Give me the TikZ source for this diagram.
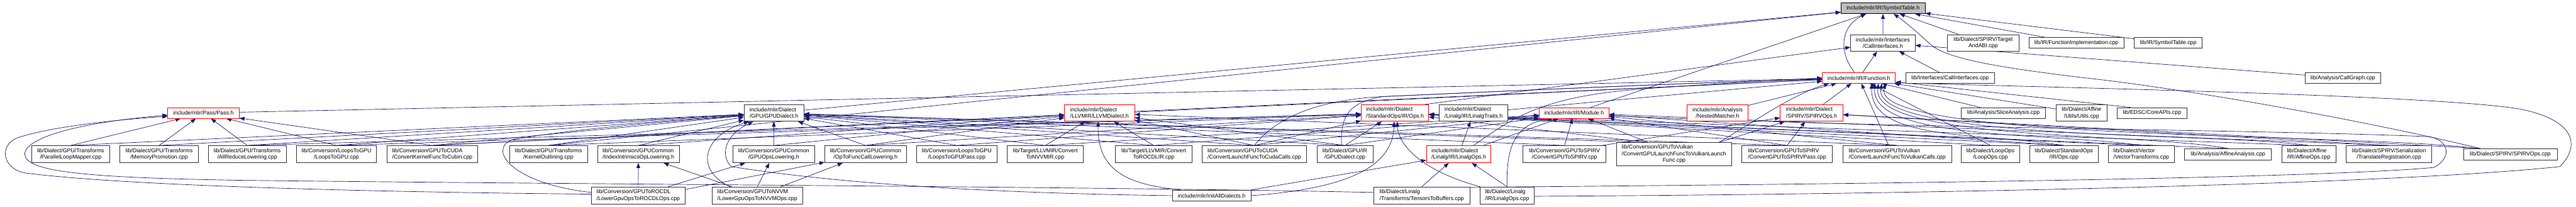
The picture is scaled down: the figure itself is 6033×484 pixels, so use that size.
\documentclass[tikz,border=0pt]{standalone}
\usepackage{fontspec}
\setmainfont{Liberation Sans}
\usetikzlibrary{arrows.meta}
\pgfdeclarelayer{bglayer}
\pgfdeclarelayer{edgelayer}
\pgfsetlayers{bglayer,edgelayer,main}
\definecolor{edgeblue}{HTML}{191970}
\definecolor{rootgray}{HTML}{BFBFBF}
\definecolor{boxborder}{HTML}{333333}
\definecolor{redborder}{HTML}{FF0000}
\begin{document}
\begin{tikzpicture}[x=1pt,y=-1pt,
  nbox/.style={draw=boxborder, line width=1pt, fill=white, inner sep=0pt, align=center, font=\fontsize{13}{15.3}\selectfont},
  nlbox/.style={nbox, align=left},
  nrbox/.style={nbox, draw=redborder},
  nrlbox/.style={nlbox, draw=redborder},
  nroot/.style={nbox, draw=black, fill=rootgray},
  inc/.style={draw=edgeblue, line width=1pt, -{Triangle[length=12pt,width=9pt]}},
]
\begin{pgfonlayer}{bglayer}
\fill[white] (0,0) rectangle (6033,484);
\end{pgfonlayer}
\useasboundingbox (0,0) rectangle (6033,484);

% ---------- row 1/2 ----------
\node[nroot, minimum width=197pt, minimum height=26pt] (ST) at (4410,19) {include/mlir/IR/SymbolTable.h};
\node[nbox, minimum width=151pt, minimum height=39pt] (CI) at (4409.6,100.5) {include/mlir/Interfaces\\/CallInterfaces.h};
\node[nbox, minimum width=167pt, minimum height=39pt] (TABI) at (4644.6,100.5) {lib/Dialect/SPIRV/Target\\AndABI.cpp};
\node[nbox, minimum width=222pt, minimum height=25pt] (FIMP) at (4863,100.5) {lib/IR/FunctionImplementation.cpp};
\node[nbox, minimum width=159pt, minimum height=25pt] (STCPP) at (5078,100.5) {lib/IR/SymbolTable.cpp};
\node[nrbox, minimum width=171pt, minimum height=25pt] (FN) at (4353.5,182.5) {include/mlir/IR/Function.h};
\node[nbox, minimum width=207pt, minimum height=25pt] (CICPP) at (4567,182.5) {lib/Interfaces/CallInterfaces.cpp};
\node[nbox, minimum width=177pt, minimum height=25pt] (CG) at (5487,182.5) {lib/Analysis/CallGraph.cpp};

% ---------- row 3 ----------
\node[nrbox, minimum width=167pt, minimum height=25pt] (PASS) at (476.5,264.5) {include/mlir/Pass/Pass.h};
\node[nlbox, minimum width=140pt, minimum height=39pt] (GPUD) at (1812.5,264.5) {include/mlir/Dialect\\/GPU/GPUDialect.h};
\node[nrlbox, minimum width=164pt, minimum height=39pt] (LLVMD) at (2575,264.5) {include/mlir/Dialect\\/LLVMIR/LLVMDialect.h};
\node[nrlbox, minimum width=158pt, minimum height=39pt] (STDH) at (3267,264.5) {include/mlir/Dialect\\/StandardOps/IR/Ops.h};
\node[nlbox, minimum width=160pt, minimum height=39pt] (LTR) at (3451,264.5) {include/mlir/Dialect\\/Linalg/IR/LinalgTraits.h};
\node[nrbox, minimum width=163pt, minimum height=25pt] (MOD) at (3686.5,264.5) {include/mlir/IR/Module.h};
\node[nrbox, minimum width=143pt, minimum height=39pt] (NM) at (4022.5,264.5) {include/mlir/Analysis\\/NestedMatcher.h};
\node[nrlbox, minimum width=147pt, minimum height=39pt] (SPVH) at (4242.7,264.5) {include/mlir/Dialect\\/SPIRV/SPIRVOps.h};
\node[nbox, minimum width=198pt, minimum height=25pt] (SLICE) at (4692,264.5) {lib/Analysis/SliceAnalysis.cpp};
\node[nbox, minimum width=119pt, minimum height=39pt] (AUTIL) at (4875,264.5) {lib/Dialect/Affine\\/Utils/Utils.cpp};
\node[nbox, minimum width=163pt, minimum height=25pt] (EDSC) at (5040,264.5) {lib/EDSC/CoreAPIs.cpp};

% ---------- row 4 ----------
\node[nbox, minimum width=183pt, minimum height=40pt] (PLM) at (165.5,361) {lib/Dialect/GPU/Transforms\\/ParallelLoopMapper.cpp};
\node[nbox, minimum width=183pt, minimum height=40pt] (MP) at (372.5,361) {lib/Dialect/GPU/Transforms\\/MemoryPromotion.cpp};
\node[nbox, minimum width=183pt, minimum height=40pt] (ARL) at (579,361) {lib/Dialect/GPU/Transforms\\/AllReduceLowering.cpp};
\node[nbox, minimum width=188pt, minimum height=40pt] (L2G) at (788,361) {lib/Conversion/LoopsToGPU\\/LoopsToGPU.cpp};
\node[nlbox, minimum width=211pt, minimum height=40pt] (CKF) at (1012.4,361) {lib/Conversion/GPUToCUDA\\/ConvertKernelFuncToCubin.cpp};
\node[nbox, minimum width=183pt, minimum height=40pt] (KO) at (1284.3,361) {lib/Dialect/GPU/Transforms\\/KernelOutlining.cpp};
\node[nlbox, minimum width=191pt, minimum height=40pt] (IIOL) at (1495,361) {lib/Conversion/GPUCommon\\/IndexIntrinsicsOpLowering.h};
\node[nbox, minimum width=191pt, minimum height=40pt] (GOL) at (1812,361) {lib/Conversion/GPUCommon\\/GPUOpsLowering.h};
\node[nbox, minimum width=191pt, minimum height=40pt] (OTFC) at (2027,361) {lib/Conversion/GPUCommon\\/OpToFuncCallLowering.h};
\node[nbox, minimum width=188pt, minimum height=40pt] (L2GP) at (2240.7,361) {lib/Conversion/LoopsToGPU\\/LoopsToGPUPass.cpp};
\node[nbox, minimum width=178pt, minimum height=40pt] (CNVVM) at (2448,361) {lib/Target/LLVMIR/Convert\\ToNVVMIR.cpp};
\node[nbox, minimum width=179pt, minimum height=40pt] (CROCDL) at (2702,361) {lib/Target/LLVMIR/Convert\\ToROCDLIR.cpp};
\node[nlbox, minimum width=245pt, minimum height=40pt] (CLFCC) at (2937.7,361) {lib/Conversion/GPUToCUDA\\/ConvertLaunchFuncToCudaCalls.cpp};
\node[nbox, minimum width=131pt, minimum height=40pt] (GPUDCPP) at (3149.7,361) {lib/Dialect/GPU/IR\\/GPUDialect.cpp};
\node[nrlbox, minimum width=151pt, minimum height=40pt] (LOPSH) at (3416.4,361) {include/mlir/Dialect\\/Linalg/IR/LinalgOps.h};
\node[nbox, minimum width=195pt, minimum height=40pt] (CG2S) at (3664,361) {lib/Conversion/GPUToSPIRV\\/ConvertGPUToSPIRV.cpp};
\node[nlbox, minimum width=269pt, minimum height=54pt] (CGLFV) at (3920.3,361) {lib/Conversion/GPUToVulkan\\/ConvertGPULaunchFuncToVulkanLaunch\\\hspace*{96pt}Func.cpp};
\node[nlbox, minimum width=212pt, minimum height=40pt] (CG2SP) at (4185.3,361) {lib/Conversion/GPUToSPIRV\\/ConvertGPUToSPIRVPass.cpp};
\node[nlbox, minimum width=254pt, minimum height=40pt] (CLFVC) at (4443.2,361) {lib/Conversion/GPUToVulkan\\/ConvertLaunchFuncToVulkanCalls.cpp};
\node[nbox, minimum width=137pt, minimum height=40pt] (LOOPOPS) at (4661.6,361) {lib/Dialect/LoopOps\\/LoopOps.cpp};
\node[nbox, minimum width=161pt, minimum height=40pt] (STDCPP) at (4833.6,361) {lib/Dialect/StandardOps\\/IR/Ops.cpp};
\node[nlbox, minimum width=155pt, minimum height=40pt] (VECT) at (5015,361) {lib/Dialect/Vector\\/VectorTransforms.cpp};
\node[nbox, minimum width=203pt, minimum height=26pt] (AFFAN) at (5217.8,361) {lib/Analysis/AffineAnalysis.cpp};
\node[nlbox, minimum width=127pt, minimum height=40pt] (AFFOPS) at (5407,361) {lib/Dialect/Affine\\/IR/AffineOps.cpp};
\node[nbox, minimum width=200pt, minimum height=40pt] (TREG) at (5595,361) {lib/Dialect/SPIRV/Serialization\\/TranslateRegistration.cpp};
\node[nbox, minimum width=219pt, minimum height=26pt] (SPVCPP) at (5879,361) {lib/Dialect/SPIRV/SPIRVOps.cpp};

% ---------- row 5 ----------
\node[nlbox, minimum width=220pt, minimum height=40pt] (ROCDL) at (1494.8,457.5) {lib/Conversion/GPUToROCDL\\/LowerGpuOpsToROCDLOps.cpp};
\node[nlbox, minimum width=212pt, minimum height=40pt] (NVVM) at (1773.7,457.5) {lib/Conversion/GPUToNVVM\\/LowerGpuOpsToNVVMOps.cpp};
\node[nbox, minimum width=184pt, minimum height=26pt] (IAD) at (2837.5,458) {include/mlir/InitAllDialects.h};
\node[nlbox, minimum width=225pt, minimum height=40pt] (T2B) at (3329.7,457.5) {lib/Dialect/Linalg\\/Transforms/TensorsToBuffers.cpp};
\node[nlbox, minimum width=126pt, minimum height=40pt] (LOPSCPP) at (3529.6,457.5) {lib/Dialect/Linalg\\/IR/LinalgOps.cpp};

\begin{pgfonlayer}{edgelayer}
% ---- into SymbolTable.h
\draw[inc] (CI) -- (ST);
\draw[inc] ([xshift=-10pt]FN.north) .. controls (4310,130) and (4305,65) .. ([xshift=-40pt]ST.south);
\draw[inc] (MOD) -- (ST);
\draw[inc] (GPUD) -- (ST);
\draw[inc] (KO.north) -- (ST);
\draw[inc] (TABI) -- (ST);
\draw[inc] (FIMP) -- (ST);
\draw[inc] (STCPP) -- (ST);
\draw[inc] ([xshift=-70pt]SPVCPP.north) .. controls (5450,262) and (5050,200) .. (4880,182) .. controls (4700,160) and (4560,140) .. (4520,103) .. controls (4490,75) and (4460,50) .. ([xshift=25pt]ST.south);
% ---- into CallInterfaces.h
\draw[inc] (FN) -- (CI);
\draw[inc] (CICPP) -- (CI);
\draw[inc] (CG) -- (CI);
\draw[inc] ([xshift=-10pt]STDH.north east) -- (CI);
% ---- into Function.h
\draw[inc] (PASS) -- (FN);
\draw[inc] (LLVMD) -- (FN);
\draw[inc] (LTR) -- (FN);
\draw[inc] (NM) -- (FN);
\draw[inc] (SPVH) -- (FN);
\draw[inc] (CKF.north) -- (FN);
\draw[inc] ([xshift=35pt]LOPSH.north) .. controls (3550,270) and (3620,225) .. (3850,208) .. controls (4000,197) and (4150,188) .. (FN.west);
\draw[inc] (CLFCC.north) .. controls (3000,260) and (3120,232) .. (3240,226) .. controls (3600,210) and (4000,192) .. ([yshift=-3pt]FN.west);
\draw[inc] ([xshift=-8pt]GPUDCPP.north) .. controls (3140,280) and (3150,240) .. (3240,226) .. controls (3600,210) and (4000,192) .. ([yshift=-3pt]FN.west);
\draw[inc] ([xshift=-30pt]CGLFV.north east) .. controls (4100,290) and (4200,220) .. ([xshift=-70pt]FN.south);
\draw[inc] ([xshift=-20pt]CLFVC.north) -- (FN);
\draw[inc] (LOOPOPS.north) -- (FN);
\draw[inc] (STDCPP.north) .. controls (4633,310) and (4380,330) .. ([xshift=30pt]FN.south);
\draw[inc] (VECT.north) .. controls (4815,310) and (4380,330) .. ([xshift=38pt]FN.south);
\draw[inc] (AFFAN.north) .. controls (5018,310) and (4380,330) .. ([xshift=46pt]FN.south);
\draw[inc] (AFFOPS.north) .. controls (5207,310) and (4380,330) .. ([xshift=54pt]FN.south);
\draw[inc] ([xshift=-75pt]SPVCPP.north) .. controls (5500,310) and (4380,330) .. ([xshift=62pt]FN.south);
\draw[inc] (SLICE) -- (FN);
\draw[inc] (AUTIL) -- (FN);
\draw[inc] ([xshift=-50pt]EDSC.north) -- (FN);
\draw[inc] ([yshift=-2pt]LOPSCPP.east) .. controls (4500,455) and (5600,432) .. (5995,390) .. controls (6045,340) and (6030,280) .. (5900,255) .. controls (5700,222) and (4800,205) .. ([yshift=-11pt]FN.east);
% ---- into Module.h
\draw[inc] (CNVVM.north) -- (MOD);
\draw[inc] (CROCDL.north) -- (MOD);
\draw[inc] (CLFCC.north) -- (MOD);
\draw[inc] (GPUDCPP.north) -- (MOD);
\draw[inc] (LOPSH) -- (MOD);
\draw[inc] (LOPSCPP.north) .. controls (3527,340) and (3550,290) .. ([xshift=-50pt]MOD.south);
\draw[inc] (CG2S.north) -- (MOD);
\draw[inc] ([xshift=-60pt]CGLFV.north) -- (MOD);
\draw[inc] (CG2SP.north) -- (MOD);
\draw[inc] (CLFVC.north) -- (MOD);
\draw[inc] (STDCPP.north) -- (MOD);
\draw[inc] (TREG.north) -- (MOD);
\draw[inc] ([yshift=19pt]T2B.east) .. controls (4200,432) and (5400,420) .. (5700,392) .. controls (5740,372) and (5740,330) .. (5690,320) .. controls (5300,303) and (4400,300) .. ([yshift=-6pt]MOD.east);
% ---- into Pass.h
\draw[inc] (PLM.north) -- (PASS);
\draw[inc] (MP.north) -- (PASS);
\draw[inc] (ARL.north) -- (PASS);
\draw[inc] (L2G.north) -- (PASS);
\draw[inc] (CKF.north) -- (PASS);
\draw[inc] ([yshift=3pt]ROCDL.west) .. controls (900,450) and (300,436) .. (60,405) .. controls (5,396) and (-3,340) .. (40,323) .. controls (120,295) and (300,278) .. ([yshift=-8pt]PASS.west);
\draw[inc] ([yshift=7pt]T2B.west) .. controls (2600,437) and (1300,431) .. (560,422) .. controls (200,416) and (62,402) .. (58,362) .. controls (55,330) and (150,290) .. ([yshift=-5pt]PASS.west);
% ---- into GPUDialect.h
\draw[inc] (PLM.north) -- (GPUD);
\draw[inc] (MP.north) -- (GPUD);
\draw[inc] (ARL.north) -- (GPUD);
\draw[inc] (L2G.north) -- (GPUD);
\draw[inc] (CKF.north) -- (GPUD);
\draw[inc] (KO.north) -- (GPUD);
\draw[inc] (IIOL.north) -- (GPUD);
\draw[inc] (GOL.north) -- (GPUD);
\draw[inc] (OTFC.north) -- (GPUD);
\draw[inc] (L2GP.north) -- (GPUD);
\draw[inc] (CNVVM.north) -- (GPUD);
\draw[inc] (CROCDL.north) -- (GPUD);
\draw[inc] (CLFCC.north) -- (GPUD);
\draw[inc] (GPUDCPP.north) -- (GPUD);
\draw[inc] (CG2S.north) -- (GPUD);
\draw[inc] ([xshift=68pt]CGLFV.north west) -- (GPUD);
\draw[inc] (CG2SP.north) -- (GPUD);
\draw[inc] ([yshift=7pt]ROCDL.west) .. controls (1200,430) and (1140,350) .. (1200,327) .. controls (1350,300) and (1600,282) .. ([yshift=-6pt]GPUD.west);
\draw[inc] ([xshift=-64pt]NVVM.north) .. controls (1630,400) and (1640,320) .. ([xshift=12pt]GPUD.south west);
\draw[inc] (IAD.west) .. controls (2300,452) and (1950,428) .. (1713,390) .. controls (1690,370) and (1690,320) .. ([xshift=22pt]GPUD.south west);
% ---- into LLVMDialect.h
\draw[inc] (CKF.north) -- (LLVMD);
\draw[inc] (IIOL.north) -- (LLVMD);
\draw[inc] (GOL.north) -- (LLVMD);
\draw[inc] (OTFC.north) -- (LLVMD);
\draw[inc] (CNVVM.north) -- (LLVMD);
\draw[inc] (CROCDL.north) -- (LLVMD);
\draw[inc] (CLFCC.north) -- (LLVMD);
\draw[inc] (GPUDCPP.north) -- (LLVMD);
\draw[inc] (CLFVC.north) -- (LLVMD);
\draw[inc] ([xshift=20pt]IAD.north west) .. controls (2640,432) and (2570,400) .. ([xshift=-3pt]LLVMD.south);
% ---- into StandardOps/IR/Ops.h
\draw[inc] (ARL.north) -- (STDH);
\draw[inc] (L2G.north) -- (STDH);
\draw[inc] (KO.north) -- (STDH);
\draw[inc] (OTFC.north) -- (STDH);
\draw[inc] (L2GP.north) -- (STDH);
\draw[inc] (CLFCC.north) -- (STDH);
\draw[inc] (GPUDCPP.north) -- (STDH);
\draw[inc] ([xshift=-60pt]CGLFV.north) -- (STDH);
\draw[inc] (LOOPOPS.north) -- (STDH);
\draw[inc] (STDCPP.north) -- (STDH);
\draw[inc] (VECT.north) -- (STDH);
\draw[inc] (AFFAN.north) -- (STDH);
\draw[inc] (AFFOPS.north) -- (STDH);
\draw[inc] (IAD.east) .. controls (3180,440) and (3262,380) .. ([xshift=-2pt]STDH.south);
\draw[inc] (LOPSCPP.north west) .. controls (3330,400) and (3275,340) .. ([xshift=5pt]STDH.south);
% ---- into SPIRVOps.h
\draw[inc] ([xshift=-10pt]CG2S.north east) -- (SPVH);
\draw[inc] ([xshift=-30pt]CGLFV.north east) -- (SPVH);
\draw[inc] (CG2SP.north) -- (SPVH);
\draw[inc] (TREG.north) -- (SPVH);
\draw[inc] ([xshift=-70pt]SPVCPP.north) -- (SPVH);
% ---- Linalg
\draw[inc] (LOPSH) -- (LTR);
\draw[inc] (T2B.north) -- (LOPSH);
\draw[inc] (LOPSCPP.north) -- (LOPSH);
\draw[inc] (IAD.north east) -- ([yshift=-14pt]LOPSH.west);
% ---- GPUCommon headers
\draw[inc] (ROCDL.north) -- (IIOL);
\draw[inc] ([xshift=70pt]ROCDL.north) -- (GOL);
\draw[inc] ([yshift=14pt]ROCDL.east) -- (OTFC);
\draw[inc] ([xshift=-60pt]NVVM.north) -- (IIOL);
\draw[inc] (NVVM.north) -- (GOL);
\draw[inc] ([xshift=55pt]NVVM.north) -- (OTFC);
\end{pgfonlayer}
\end{tikzpicture}
\end{document}
